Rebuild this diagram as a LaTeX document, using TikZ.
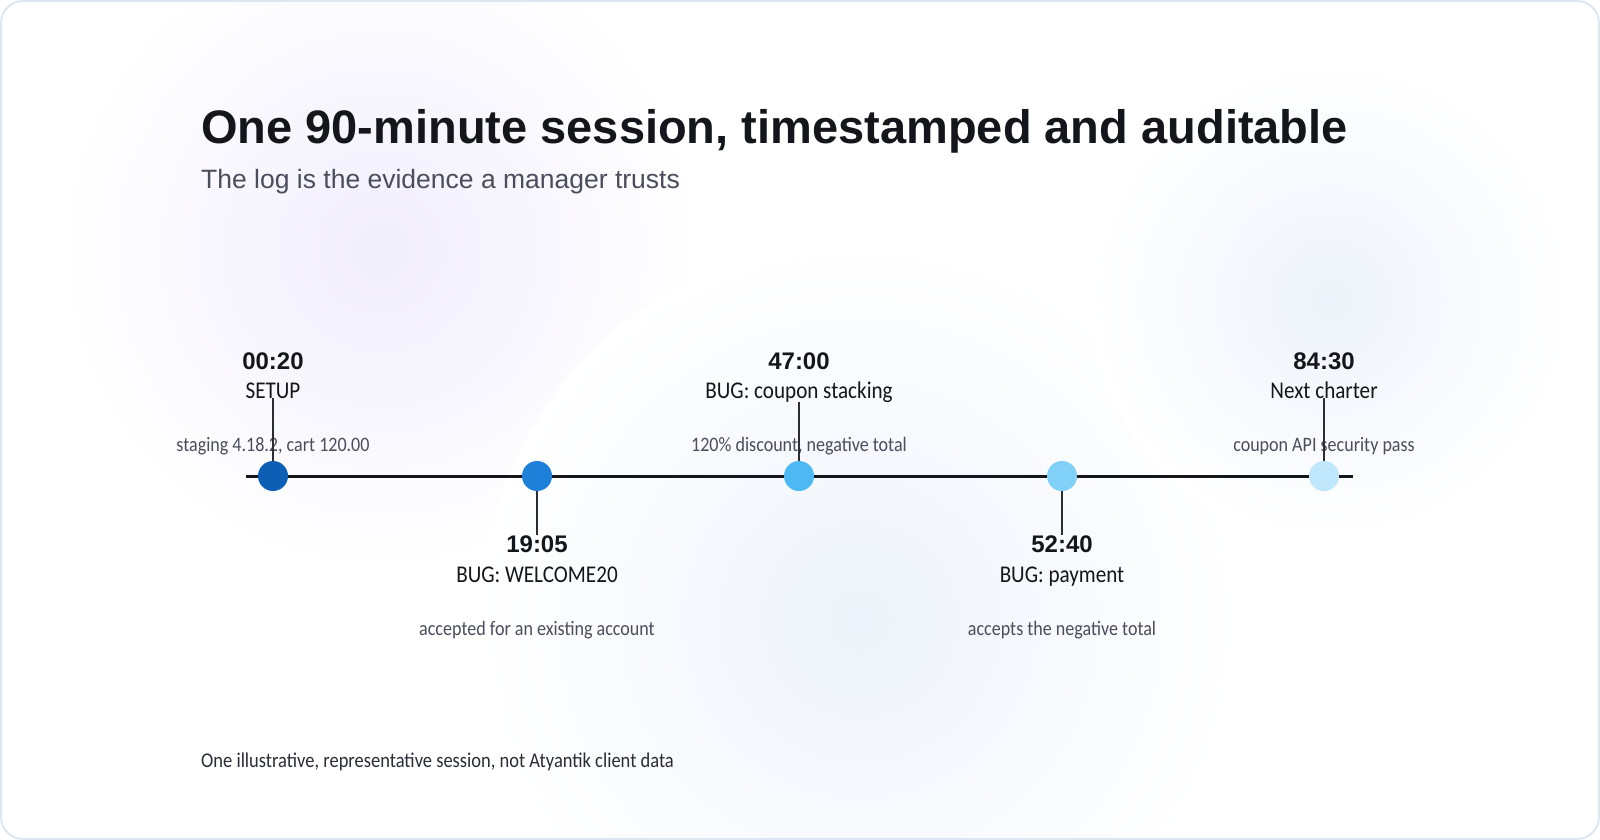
\documentclass[tikz,border=0pt]{standalone}
\usepackage{fontspec}
\setmainfont{Liberation Sans}
\newfontfamily\handfont[FakeStretch=0.88]{Carlito}
\usetikzlibrary{positioning}

\definecolor{ink}{HTML}{14161C}
\definecolor{subink}{HTML}{4A4E5C}
\definecolor{pen}{HTML}{2A2D36}
\definecolor{frame}{HTML}{DCE7F1}
\definecolor{dotA}{HTML}{0D5FB5}
\definecolor{dotB}{HTML}{1F80D9}
\definecolor{dotC}{HTML}{4CB9F5}
\definecolor{dotD}{HTML}{80D0F7}
\definecolor{dotE}{HTML}{BFE6FA}
\definecolor{hazeP}{HTML}{F1EEFC}
\definecolor{hazeB}{HTML}{EEF3FB}

\tikzset{
  stamp/.style={font=\bfseries\fontsize{24}{28}\selectfont, text=ink, anchor=base, inner sep=0pt},
  evtitle/.style={font=\handfont\fontsize{24}{28}\selectfont, text=ink, anchor=base, inner sep=0pt},
  evnote/.style={font=\handfont\fontsize{20.5}{24}\selectfont, text=subink, anchor=base, inner sep=0pt},
  dot/.style={circle, minimum size=30pt, inner sep=0pt},
  stem/.style={draw=pen, line width=2pt}
}

\begin{document}
\begin{tikzpicture}[x=1pt, y=-1pt]
    \useasboundingbox (0,0) rectangle (1600,840);

    % Background and frame
    \fill[white, rounded corners=22pt] (1,1) rectangle (1599,839);
    \shade[inner color=hazeP, outer color=white] (380,250) circle (320);
    \shade[inner color=hazeB, outer color=white] (860,620) circle (380);
    \shade[inner color=hazeB, outer color=white] (1330,300) circle (240);
    \draw[frame, line width=2pt, rounded corners=22pt] (1,1) rectangle (1599,839);

    % Headings
    \node[font=\bfseries\fontsize{47}{55}\selectfont, text=ink, anchor=base west, inner sep=0pt] (title) at (201,143) {One 90-minute session, timestamped and auditable};
    \node[font=\fontsize{26.5}{31}\selectfont, text=subink, anchor=base west, inner sep=0pt] (subtitle) at (201,188) {The log is the evidence a manager trusts};

    % Events above the line
    \node[stamp] (s1) at (273,369) {00:20};
    \node[evtitle] (e1) at (273,398) {SETUP};
    \node[evnote] (n1) at (273,451) {staging 4.18.2, cart 120.00};
    \node[stamp] (s3) at (799,369) {47:00};
    \node[evtitle] (e3) at (799,398) {BUG: coupon stacking};
    \node[evnote] (n3) at (799,451) {120\% discount, negative total};
    \node[stamp] (s5) at (1324,369) {84:30};
    \node[evtitle] (e5) at (1324,398) {Next charter};
    \node[evnote] (n5) at (1324,451) {coupon API security pass};

    % Events below the line
    \node[stamp] (s2) at (537,552) {19:05};
    \node[evtitle] (e2) at (537,582) {BUG: WELCOME20};
    \node[evnote] (n2) at (537,635) {accepted for an existing account};
    \node[stamp] (s4) at (1062,552) {52:40};
    \node[evtitle] (e4) at (1062,582) {BUG: payment};
    \node[evnote] (n4) at (1062,635) {accepts the negative total};

    % Define the timeline and the dots
    \coordinate (start) at (246,476);
    \coordinate (end) at (1353,476);
    \draw[ink, line width=3pt] (start) -- (end);
    \node[dot, fill=dotA] (d1) at (273,476) {};
    \node[dot, fill=dotB] (d2) at (537,476) {};
    \node[dot, fill=dotC] (d3) at (799,476) {};
    \node[dot, fill=dotD] (d4) at (1062,476) {};
    \node[dot, fill=dotE] (d5) at (1324,476) {};

    % Draw stems from the dots to the labels
    \draw[stem] (d1.north) -- (e1.south);
    \draw[stem] (d3.north) -- (e3.south);
    \draw[stem] (d5.north) -- (e5.south);
    \draw[stem] (d2.south) -- (s2.north);
    \draw[stem] (d4.south) -- (s4.north);

    % Footnote
    \node[font=\handfont\fontsize{21}{26}\selectfont, text=pen, anchor=base west, inner sep=0pt] (foot) at (201,767) {One illustrative, representative session, not Atyantik client data};
\end{tikzpicture}
\end{document}
